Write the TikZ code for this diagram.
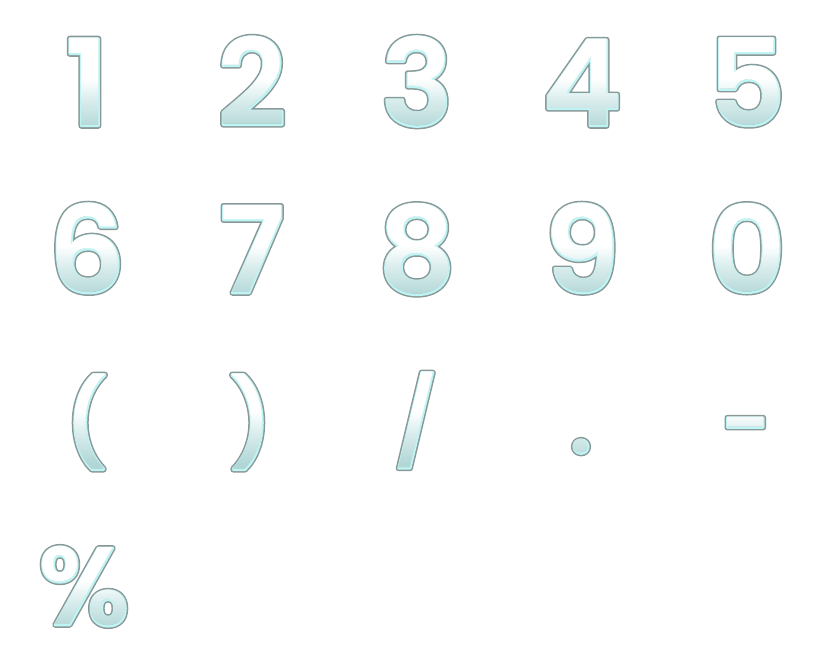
\documentclass[tikz,border=0pt]{standalone}
\usepackage{fontspec}
\usetikzlibrary{fadings}
\newfontfamily\glyphfont{Poppins SemiBold}

\definecolor{glyphedge}{HTML}{8A9898}
\definecolor{glyphglow}{HTML}{BFF4F4}
\definecolor{glyphteal}{HTML}{B2D6D6}
\definecolor{glyphmid}{HTML}{DAEDED}

\pgfdeclareverticalshading{glyphshade}{100bp}{color(0bp)=(glyphteal); color(30bp)=(glyphteal); color(44bp)=(glyphmid); color(54bp)=(white); color(100bp)=(white)}

% outline of the letters (stroke render mode)
\newcommand\strokedtext[2]{\special{pdf:literal direct #1 w 1 j 1 J 1 Tr}#2\special{pdf:literal direct 0 Tr}}
\newcommand\edgetext[1]{\strokedtext{5.5}{#1}}
\newcommand\glowtext[1]{\strokedtext{2.5}{#1}}

\tikzset{
  glyph/.style={anchor=base, inner sep=0pt, font=\glyphfont\fontsize{120}{120}\selectfont},
  glyphsmall/.style={font=\glyphfont\fontsize{85}{85}\selectfont},
  glyphpct/.style={font=\glyphfont\fontsize{110}{110}\selectfont}
}

% all the signs, row by row
\newcommand\glyphrows[2]{%
  \foreach \c [count=\i from 0] in {1,2,3,4,5}
    \node[glyph,#1] (r1c\i) at (87+165*\i,538) {#2{\c}};
  \foreach \c [count=\i from 0] in {6,7,8,9,0}
    \node[glyph,#1] (r2c\i) at (87+165*\i,371) {#2{\c}};
  \foreach \c [count=\i from 0] in {{(},{)},{/},{.},{-}}
    \node[glyph,glyphsmall,#1] (r3c\i) at (86+165*\i,211) {#2{\c}};
  \node[glyph,glyphpct,#1] (r4c0) at (84,39) {#2{\%}};
}

\begin{tikzfadingfrompicture}[name=glyphs, x=1pt, y=1pt]
  \path (0,0) rectangle (830,664);
  \glyphrows{text=transparent!0}{\mbox}
\end{tikzfadingfrompicture}

\begin{document}
\begin{tikzpicture}[x=1pt, y=1pt]
    \useasboundingbox (0,0) rectangle (830,664);
    \fill[white] (0,0) rectangle (830,664);

    % Gray edge and light glow
    \glyphrows{text=glyphedge}{\edgetext}
    \glyphrows{text=glyphglow}{\glowtext}

    % Gradient fill, white to teal
    \foreach \b/\h in {538/92,371/92,204/94,39/86}
        \shade[shading=glyphshade, path fading=glyphs, fit fading=false,
               fading transform={shift={(415,332)}}] (0,\b-14) rectangle (830,\b+\h);
\end{tikzpicture}
\end{document}
